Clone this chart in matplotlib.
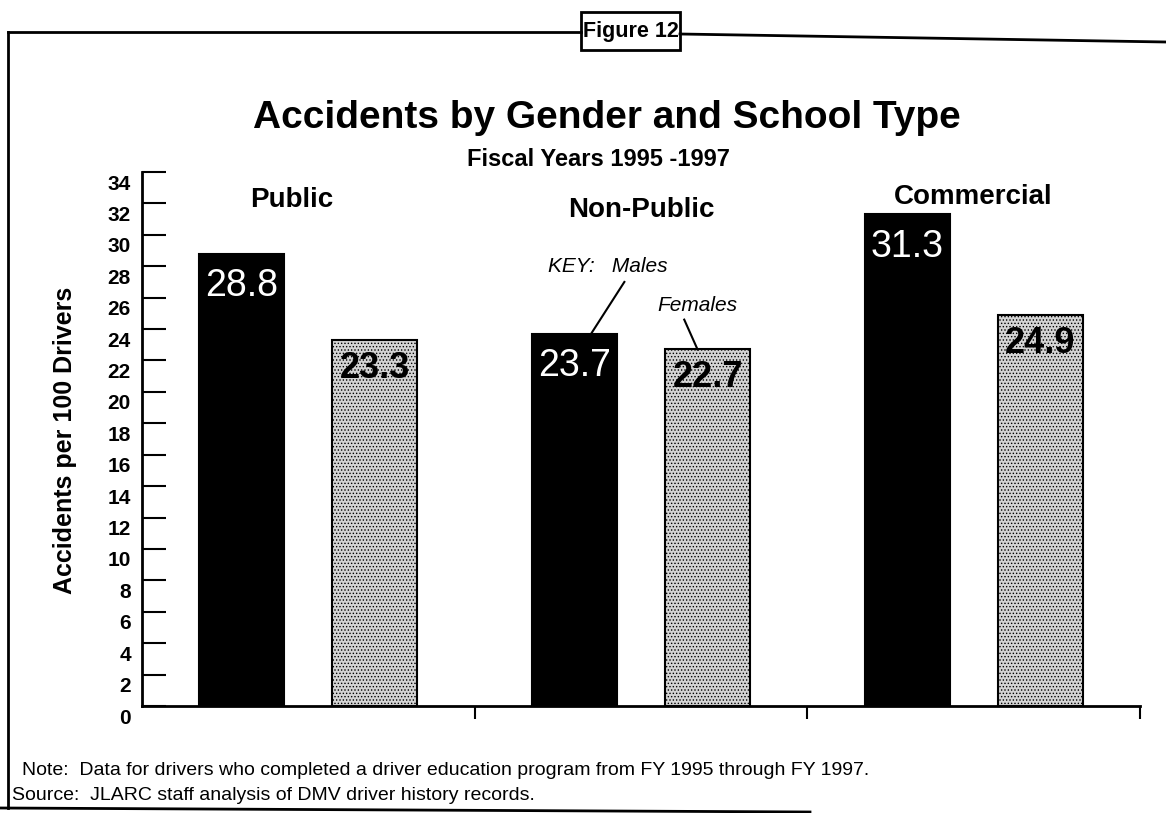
import matplotlib
matplotlib.use("Agg")
import matplotlib.pyplot as plt
import matplotlib.transforms as mtransforms
from matplotlib.lines import Line2D
from matplotlib.patches import Rectangle

# data
schools = ["Public", "Non-Public", "Commercial"]
males = [28.8, 23.7, 31.3]
females = [23.3, 22.7, 24.9]
yticks = list(range(0, 35, 2))

plt.rcParams['font.family'] = ['Liberation Sans', 'DejaVu Sans']
plt.rcParams['hatch.linewidth'] = 0.6

fig = plt.figure(figsize=(11.66, 8.13), dpi=100)
W, H = 1166, 813


def fx(px):
    return px / W


def fy(py):
    return 1 - py / H


ax = fig.add_axes([fx(142), fy(706), fx(1140) - fx(142), fy(172) - fy(706)])

x_m = [i + 0.30 for i in range(3)]
x_f = [i + 0.70 for i in range(3)]
w = 0.255

ax.bar(x_m, males, width=w, color='black', edgecolor='black', linewidth=1.5)
ax.bar(x_f, females, width=w, color='#d4d4d4', edgecolor='black', linewidth=1.5,
       hatch='.....')

for xm, v in zip(x_m, males):
    ax.text(xm, v - 0.9, f"{v}", ha='center', va='top', color='white', fontsize=27)
for xf, v in zip(x_f, females):
    ax.text(xf, v - 0.7, f"{v}", ha='center', va='top', color='black',
            fontsize=26, fontweight='bold')

label_pos = [(0.45, 32.2), (1.5, 31.6), (2.5, 32.4)]
for name, (lx, ly) in zip(schools, label_pos):
    ax.text(lx, ly, name, ha='center', va='center', fontsize=20, fontweight='bold')

# key annotations
ax.text(1.22, 28.0, "KEY:   Males", ha='left', va='center', fontsize=15, style='italic')
ax.plot([1.45, 1.35], [27.0, 23.7], color='black', lw=1.5)
ax.text(1.55, 25.5, "Females", ha='left', va='center', fontsize=15, style='italic')
ax.plot([1.63, 1.67], [24.6, 22.7], color='black', lw=1.5)

ax.set_xlim(0, 3)
ax.set_ylim(0, 34)
ax.set_yticks(yticks)
ax.set_yticklabels([str(t) for t in yticks], fontsize=15, fontweight='bold')
ax.tick_params(axis='y', direction='in', length=17, width=1.5, pad=8)
offset = mtransforms.ScaledTranslation(0, -10 / 100, fig.dpi_scale_trans)
for lab in ax.get_yticklabels():
    lab.set_transform(lab.get_transform() + offset)
ax.set_xticks([1, 2, 3])
ax.set_xticklabels([])
ax.tick_params(axis='x', direction='out', length=9, width=1.5)
for s in ['top', 'right']:
    ax.spines[s].set_visible(False)
for s in ['left', 'bottom']:
    ax.spines[s].set_linewidth(2)

fig.text(fx(65), fy(440), "Accidents per 100 Drivers", rotation=90, ha='center',
         va='center', fontsize=18, fontweight='bold')

fig.text(fx(607), fy(118), "Accidents by Gender and School Type", ha='center',
         va='center', fontsize=28, fontweight='bold')
fig.text(fx(598), fy(160), "Fiscal Years 1995 -1997", ha='center', va='center',
         fontsize=17, fontweight='bold')

# frame and figure label box
frame = [([8, 581], [32, 32]), ([680, 1166], [34, 42]), ([8, 8], [32, 808]),
         ([0, 810], [808, 812])]
for xs, ys in frame:
    fig.add_artist(Line2D([fx(v) for v in xs], [fy(v) for v in ys], color='black', lw=2))
fig.add_artist(Rectangle((fx(581), fy(50)), fx(680) - fx(581), fy(12) - fy(50),
                         facecolor='white', edgecolor='black', lw=2,
                         transform=fig.transFigure))
fig.text(fx(631), fy(31), "Figure 12", ha='center', va='center', fontsize=15.5,
         fontweight='bold')

fig.text(fx(22), fy(770), "Note:  Data for drivers who completed a driver education program from FY 1995 through FY 1997.",
         ha='left', va='center', fontsize=14)
fig.text(fx(12), fy(795), "Source:  JLARC staff analysis of DMV driver history records.",
         ha='left', va='center', fontsize=14)

fig.savefig("out.png", dpi=100)
